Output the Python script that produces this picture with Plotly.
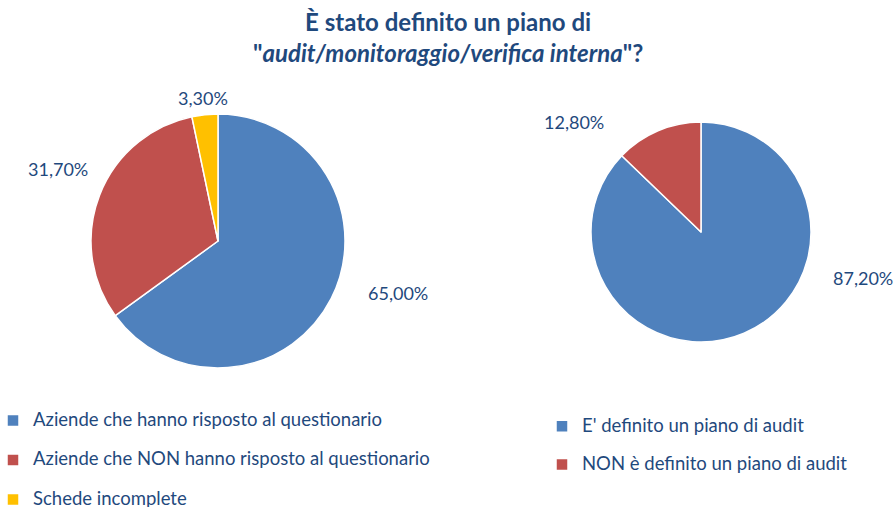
import plotly.graph_objects as go

# ---- data ----
left_labels = ["Aziende che hanno risposto al questionario",
               "Aziende che NON hanno risposto al questionario",
               "Schede incomplete"]
left_values = [65.0, 31.7, 3.3]
right_labels = ["E' definito un piano di audit",
                "NON è definito un piano di audit"]
right_values = [87.2, 12.8]

left_colors = ["#4F81BD", "#C0504D", "#FFC000"]
right_colors = ["#4F81BD", "#C0504D"]

W, H = 896, 507
TXT = "#1F497D"
FONT = "Lato"
LEG_SIZE = 18.5

def px_x(x):
    return x / W

def px_y(y):
    return 1 - y / H

def leg_label(s):
    # bigger visible text; empty 2nd line gives the original's item spacing
    return f"<span style='font-size:{LEG_SIZE}px'>{s}</span><br> "

fig = go.Figure()

fig.add_trace(go.Pie(
    labels=[leg_label(l) for l in left_labels], values=left_values,
    sort=False, direction="clockwise", rotation=0,
    marker=dict(colors=left_colors, line=dict(color="white", width=1.5)),
    textinfo="none", hovertemplate="%{value:.2f}%<extra></extra>",
    domain=dict(x=[px_x(91), px_x(345)], y=[px_y(368), px_y(114)]),
    legend="legend", showlegend=True,
))
fig.add_trace(go.Pie(
    labels=[leg_label(l) for l in right_labels], values=right_values,
    sort=False, direction="clockwise", rotation=0,
    marker=dict(colors=right_colors, line=dict(color="white", width=1.5)),
    textinfo="none", hovertemplate="%{value:.2f}%<extra></extra>",
    domain=dict(x=[px_x(591), px_x(811)], y=[px_y(342), px_y(122)]),
    legend="legend2", showlegend=True,
))

# value labels (text from data, placed like the original's outside labels)
left_label_pos = [(398, 293), (58, 169), (203, 98)]
right_label_pos = [(863, 278), (574, 122)]
ann = []
for vals, poss in ((left_values, left_label_pos), (right_values, right_label_pos)):
    for v, (x, y) in zip(vals, poss):
        ann.append(dict(x=px_x(x), y=px_y(y), xref="paper", yref="paper",
                        text=f"{v:.2f}%".replace(".", ","), showarrow=False,
                        xanchor="center", yanchor="middle",
                        font=dict(family=FONT, size=18, color=TXT)))

ann.append(dict(
    x=0.5, y=px_y(5), xref="paper", yref="paper", xanchor="center", yanchor="top",
    showarrow=False, align="center",
    text="<b>È stato definito un piano di<br>\"<i>audit/monitoraggio/verifica interna</i>\"?</b>",
    font=dict(family=FONT, size=24, color=TXT),
))

legend_common = dict(valign="top", bgcolor="rgba(0,0,0,0)",
                     xanchor="left", yanchor="top", traceorder="normal")

fig.update_layout(
    width=W, height=H,
    margin=dict(l=0, r=0, t=0, b=0, autoexpand=False),
    paper_bgcolor="white", plot_bgcolor="white",
    separators=",.",
    legend=dict(x=px_x(-7), y=px_y(405),
                font=dict(family=FONT, size=14, color=TXT), **legend_common),
    legend2=dict(x=px_x(542), y=px_y(411),
                 font=dict(family=FONT, size=13.5, color=TXT), **legend_common),
    annotations=ann,
)

fig.write_html("out.html",
               config={"displayModeBar": False},
               post_script="document.body.style.margin='0';document.body.style.padding='0';")
